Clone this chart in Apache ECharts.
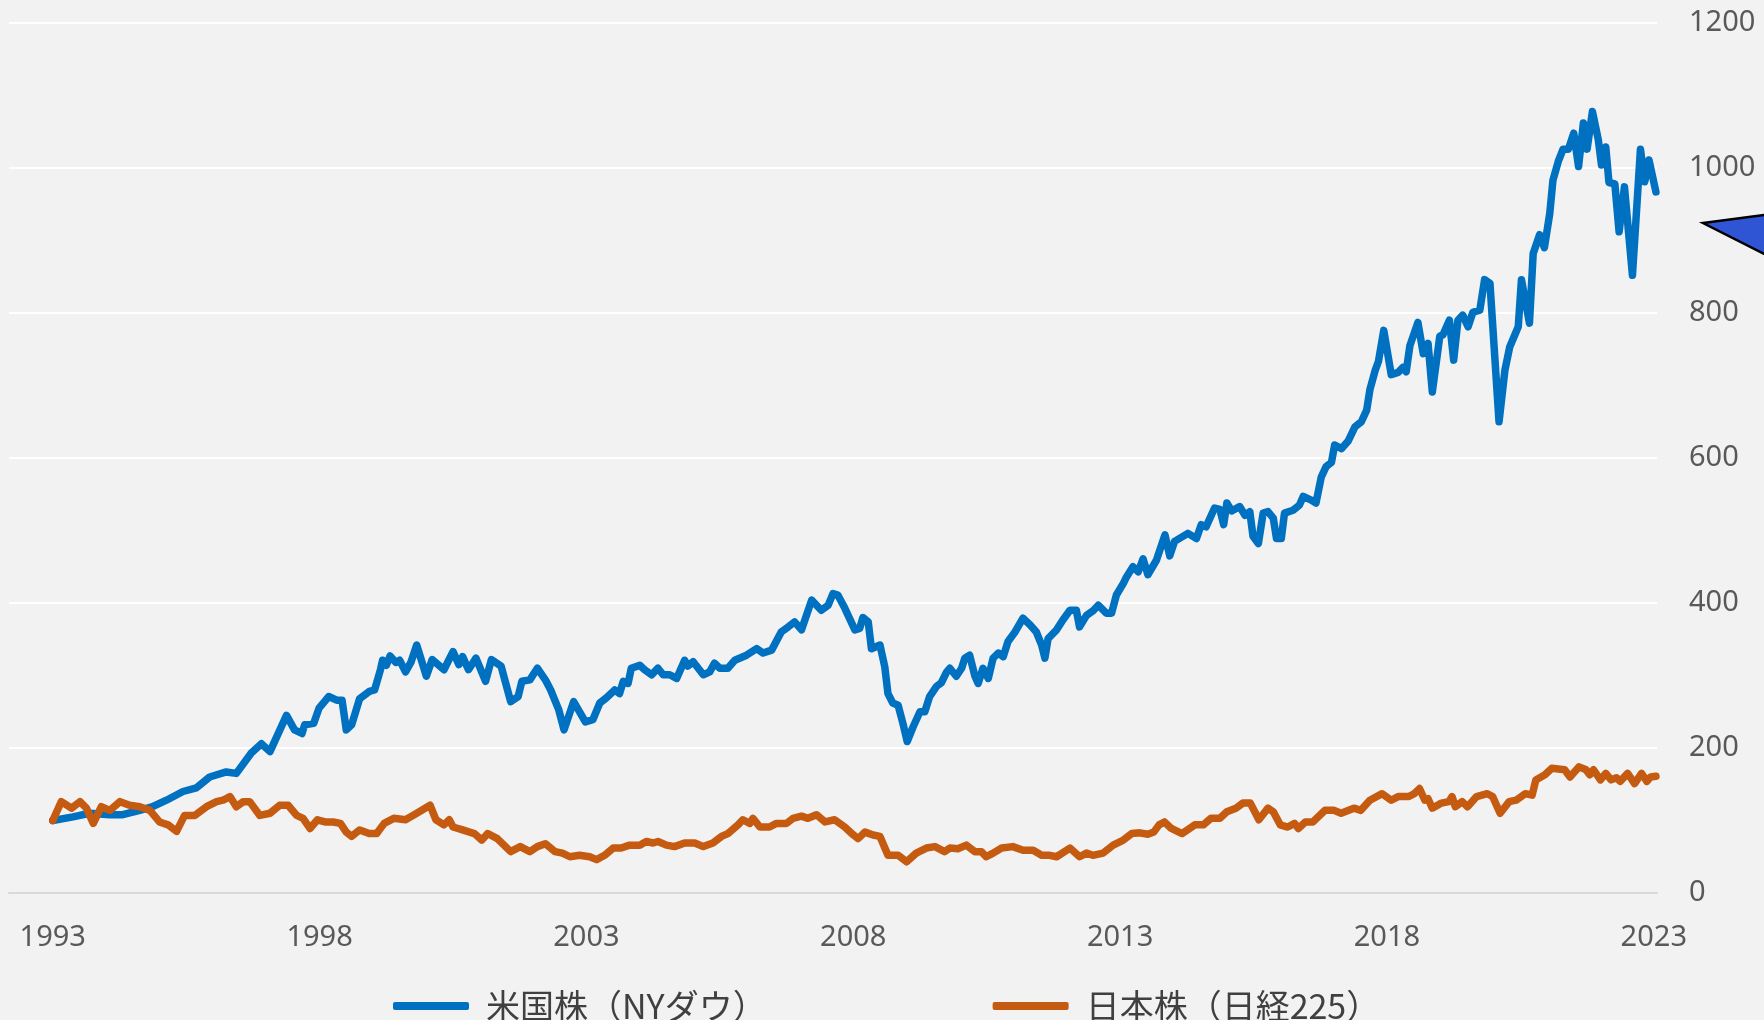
<!DOCTYPE html>
<html>
<head>
<meta charset="utf-8">
<script src="https://cdn.jsdelivr.net/npm/echarts@6/dist/echarts.min.js"></script>
<style>
  html, body { margin: 0; padding: 0; background: #f2f2f2; }
  #chart { width: 1764px; height: 1020px; }
</style>
</head>
<body>
<div id="chart"></div>
<script>
// x axis tick labels (years)
const yearLabels = [1993, 1998, 2003, 2008, 2013, 2018, 2023]

// 米国株 (NYダウ), 1993 = 100
const usYears = [
  1993.00, 1993.38, 1993.69, 1994.07, 1994.31, 1994.63, 1994.87, 1995.13, 1995.44, 1995.69,
  1995.94, 1996.25, 1996.44, 1996.72, 1996.91, 1997.07, 1997.38, 1997.53, 1997.67, 1997.72,
  1997.89, 1997.99, 1998.17, 1998.32, 1998.42, 1998.50, 1998.60, 1998.75, 1998.93, 1999.03,
  1999.14, 1999.18, 1999.25, 1999.32, 1999.43, 1999.50, 1999.61, 1999.71, 1999.82, 2000.00,
  2000.11, 2000.33, 2000.50, 2000.61, 2000.68, 2000.79, 2000.93, 2001.11, 2001.22, 2001.40,
  2001.58, 2001.72, 2001.79, 2001.94, 2002.08, 2002.23, 2002.33, 2002.48, 2002.58, 2002.76,
  2002.98, 2003.12, 2003.25, 2003.37, 2003.53, 2003.62, 2003.69, 2003.78, 2003.84, 2004.00,
  2004.09, 2004.22, 2004.34, 2004.44, 2004.56, 2004.69, 2004.84, 2004.90, 2005.00, 2005.19,
  2005.31, 2005.40, 2005.50, 2005.65, 2005.78, 2006.00, 2006.19, 2006.31, 2006.47, 2006.65,
  2006.78, 2006.90, 2007.03, 2007.22, 2007.40, 2007.53, 2007.62, 2007.71, 2007.84, 2008.03,
  2008.12, 2008.18, 2008.28, 2008.34, 2008.50, 2008.59, 2008.65, 2008.74, 2008.84, 2008.93,
  2009.01, 2009.12, 2009.25, 2009.34, 2009.43, 2009.56, 2009.65, 2009.75, 2009.81, 2009.93,
  2010.03, 2010.09, 2010.18, 2010.28, 2010.34, 2010.43, 2010.53, 2010.62, 2010.72, 2010.81,
  2010.90, 2011.03, 2011.18, 2011.31, 2011.43, 2011.53, 2011.59, 2011.65, 2011.81, 2011.93,
  2012.06, 2012.18, 2012.24, 2012.37, 2012.49, 2012.59, 2012.74, 2012.84, 2012.93, 2013.06,
  2013.12, 2013.24, 2013.34, 2013.43, 2013.52, 2013.68, 2013.84, 2013.93, 2014.02, 2014.27,
  2014.43, 2014.52, 2014.61, 2014.77, 2014.87, 2014.94, 2015.00, 2015.09, 2015.24, 2015.34,
  2015.43, 2015.49, 2015.59, 2015.68, 2015.77, 2015.87, 2015.93, 2016.02, 2016.08, 2016.24,
  2016.36, 2016.43, 2016.58, 2016.67, 2016.77, 2016.86, 2016.96, 2017.02, 2017.15, 2017.27,
  2017.40, 2017.52, 2017.62, 2017.68, 2017.78, 2017.84, 2017.94, 2018.08, 2018.21, 2018.30,
  2018.36, 2018.43, 2018.58, 2018.68, 2018.77, 2018.85, 2018.99, 2019.05, 2019.17, 2019.25,
  2019.33, 2019.42, 2019.52, 2019.61, 2019.74, 2019.83, 2019.93, 2020.10, 2020.21, 2020.30,
  2020.46, 2020.52, 2020.67, 2020.74, 2020.86, 2020.95, 2021.05, 2021.11, 2021.21, 2021.30,
  2021.40, 2021.50, 2021.59, 2021.68, 2021.75, 2021.85, 2021.96, 2022.02, 2022.10, 2022.16,
  2022.27, 2022.35, 2022.45, 2022.60, 2022.75, 2022.83, 2022.91, 2023.04
]
const usValues = [
  100, 105, 110, 108, 108, 114, 119, 128, 140, 145,
  160, 167, 165, 193, 206, 195, 245, 225, 220, 232,
  234, 255, 271, 266, 266, 225, 232, 268, 278, 280,
  308, 321, 314, 327, 318, 321, 305, 318, 342, 299,
  322, 308, 333, 315, 326, 308, 324, 292, 322, 313,
  264, 271, 292, 294, 310, 294, 280, 253, 225, 264,
  236, 239, 262, 269, 280, 275, 292, 289, 310, 314,
  308, 301, 310, 301, 301, 296, 321, 313, 319, 301,
  305, 317, 310, 310, 321, 328, 337, 331, 335, 360,
  367, 374, 363, 404, 390, 397, 413, 411, 393, 363,
  365, 380, 374, 337, 342, 312, 275, 262, 259, 234,
  209, 229, 250, 250, 271, 285, 290, 305, 310, 299,
  310, 324, 328, 299, 289, 310, 296, 324, 331, 326,
  347, 360, 379, 370, 360, 342, 324, 351, 363, 377,
  390, 390, 367, 383, 389, 397, 386, 386, 411, 427,
  436, 450, 443, 461, 439, 459, 494, 465, 485, 496,
  489, 508, 505, 531, 529, 508, 538, 527, 533, 521,
  526, 492, 482, 524, 526, 517, 489, 489, 524, 528,
  535, 547, 542, 538, 574, 588, 594, 618, 613, 623,
  643, 650, 666, 694, 721, 733, 776, 715, 718, 725,
  719, 755, 787, 744, 758, 691, 768, 770, 790, 735,
  790, 797, 781, 801, 804, 846, 841, 650, 721, 753,
  781, 846, 786, 882, 908, 890, 937, 983, 1009, 1026,
  1026, 1048, 1002, 1062, 1026, 1078, 1039, 1004, 1029, 980,
  978, 912, 974, 852, 1026, 981, 1011, 967
]

// 日本株 (日経225), 1993 = 100
const jpYears = [
  1993.00, 1993.16, 1993.35, 1993.51, 1993.63, 1993.76, 1993.91, 1994.07, 1994.26, 1994.44,
  1994.63, 1994.82, 1995.00, 1995.16, 1995.32, 1995.47, 1995.66, 1995.88, 1996.07, 1996.19,
  1996.32, 1996.44, 1996.57, 1996.69, 1996.88, 1997.07, 1997.25, 1997.41, 1997.57, 1997.69,
  1997.82, 1997.96, 1998.10, 1998.25, 1998.39, 1998.50, 1998.60, 1998.75, 1998.93, 1999.07,
  1999.21, 1999.39, 1999.61, 1999.82, 2000.07, 2000.18, 2000.33, 2000.43, 2000.50, 2000.68,
  2000.90, 2001.04, 2001.15, 2001.33, 2001.58, 2001.76, 2001.94, 2002.08, 2002.23, 2002.41,
  2002.55, 2002.69, 2002.87, 2003.06, 2003.19, 2003.34, 2003.50, 2003.65, 2003.81, 2004.00,
  2004.12, 2004.25, 2004.34, 2004.50, 2004.65, 2004.84, 2005.03, 2005.19, 2005.37, 2005.53,
  2005.65, 2005.84, 2005.93, 2006.06, 2006.12, 2006.25, 2006.43, 2006.56, 2006.75, 2006.87,
  2007.03, 2007.15, 2007.31, 2007.47, 2007.65, 2007.84, 2007.97, 2008.09, 2008.22, 2008.37,
  2008.50, 2008.65, 2008.74, 2008.84, 2009.00, 2009.18, 2009.37, 2009.53, 2009.71, 2009.81,
  2009.96, 2010.12, 2010.28, 2010.40, 2010.49, 2010.62, 2010.78, 2010.99, 2011.18, 2011.37,
  2011.53, 2011.68, 2011.81, 2012.06, 2012.24, 2012.37, 2012.49, 2012.68, 2012.87, 2013.06,
  2013.22, 2013.37, 2013.52, 2013.63, 2013.73, 2013.83, 2013.96, 2014.16, 2014.40, 2014.56,
  2014.70, 2014.87, 2015.00, 2015.17, 2015.30, 2015.44, 2015.60, 2015.77, 2015.87, 2016.00,
  2016.14, 2016.27, 2016.34, 2016.47, 2016.61, 2016.84, 2017.01, 2017.14, 2017.38, 2017.51,
  2017.68, 2017.91, 2018.08, 2018.21, 2018.41, 2018.51, 2018.61, 2018.71, 2018.77, 2018.85,
  2019.02, 2019.16, 2019.22, 2019.28, 2019.41, 2019.51, 2019.68, 2019.88, 2019.98, 2020.12,
  2020.29, 2020.42, 2020.59, 2020.72, 2020.79, 2020.96, 2021.09, 2021.33, 2021.43, 2021.60,
  2021.73, 2021.80, 2021.87, 2022.00, 2022.10, 2022.20, 2022.30, 2022.37, 2022.51, 2022.64,
  2022.77, 2022.87, 2022.94, 2023.04
]
const jpValues = [
  100, 126, 117, 126, 117, 96, 119, 114, 126, 121,
  119, 114, 98, 94, 85, 107, 107, 119, 126, 128,
  133, 119, 126, 126, 107, 110, 121, 121, 107, 103,
  89, 101, 98, 98, 96, 84, 78, 87, 82, 82,
  96, 103, 101, 110, 121, 101, 94, 101, 91, 87,
  82, 73, 82, 75, 57, 64, 57, 64, 68, 57,
  55, 50, 52, 50, 46, 52, 62, 62, 66, 66,
  71, 69, 71, 66, 64, 69, 69, 64, 69, 78,
  82, 94, 101, 96, 103, 91, 91, 96, 96, 103,
  106, 103, 108, 98, 101, 91, 82, 75, 84, 80,
  78, 52, 52, 52, 43, 55, 62, 64, 57, 62,
  61, 66, 57, 57, 50, 55, 62, 64, 59, 59,
  52, 52, 50, 62, 50, 55, 52, 55, 66, 73,
  82, 83, 81, 84, 94, 98, 89, 82, 94, 94,
  103, 103, 112, 117, 124, 124, 101, 117, 112, 94,
  91, 96, 89, 98, 98, 114, 114, 110, 117, 114,
  128, 137, 128, 133, 133, 137, 144, 128, 130, 117,
  124, 126, 133, 119, 126, 119, 133, 137, 133, 110,
  126, 128, 137, 135, 156, 163, 172, 170, 160, 174,
  170, 163, 170, 156, 165, 156, 159, 154, 165, 151,
  165, 154, 160, 161
]

const usName = '米国株（NYダウ）'
const jpName = '日本株（日経225）'

const chart = echarts.init(document.getElementById('chart'))

chart.setOption({
  animation: false,
  backgroundColor: '#f2f2f2',
  grid: {
    left: 9,
    right: 107,
    top: 23,
    bottom: 127
  },
  legend: {
    data: [usName, jpName],
    left: 388,
    top: 983,
    icon: 'roundRect',
    itemWidth: 76,
    itemHeight: 8,
    itemGap: 226,
    textStyle: {
      fontFamily: 'Noto Sans CJK JP',
      fontSize: 34,
      lineHeight: 36,
      color: '#404040',
      padding: [0, 0, 0, 12]
    }
  },
  xAxis: {
    type: 'value',
    min: 1992.18,
    max: 2023.06,
    splitLine: { show: false },
    axisTick: { show: false },
    axisLine: {
      lineStyle: { color: '#d9d9d9', width: 2 }
    },
    axisLabel: {
      customValues: yearLabels,
      formatter: (v) => String(Math.round(v)),
      margin: 30,
      fontFamily: 'Noto Sans',
      fontSize: 29,
      color: '#595959'
    }
  },
  yAxis: {
    type: 'value',
    position: 'right',
    min: 0,
    max: 1200,
    interval: 200,
    axisLine: { show: false },
    axisTick: { show: false },
    splitLine: {
      lineStyle: { color: '#ffffff', width: 2 }
    },
    axisLabel: {
      margin: 32,
      formatter: (v) => String(v),
      fontFamily: 'Noto Sans',
      fontSize: 29,
      color: '#595959'
    }
  },
  graphic: [
    {
      type: 'polygon',
      shape: { points: [[1703, 223], [1772, 214], [1772, 258]] },
      style: { fill: '#2f55d4', stroke: '#000000', lineWidth: 2.5 }
    }
  ],
  series: [
    {
      name: usName,
      type: 'line',
      data: usYears.map((y, i) => [y, usValues[i]]),
      showSymbol: false,
      color: '#0070c0',
      lineStyle: { width: 7.5, color: '#0070c0', cap: 'round', join: 'round' }
    },
    {
      name: jpName,
      type: 'line',
      data: jpYears.map((y, i) => [y, jpValues[i]]),
      showSymbol: false,
      color: '#c55a11',
      lineStyle: { width: 7.5, color: '#c55a11', cap: 'round', join: 'round' }
    }
  ]
})
</script>
</body>
</html>
